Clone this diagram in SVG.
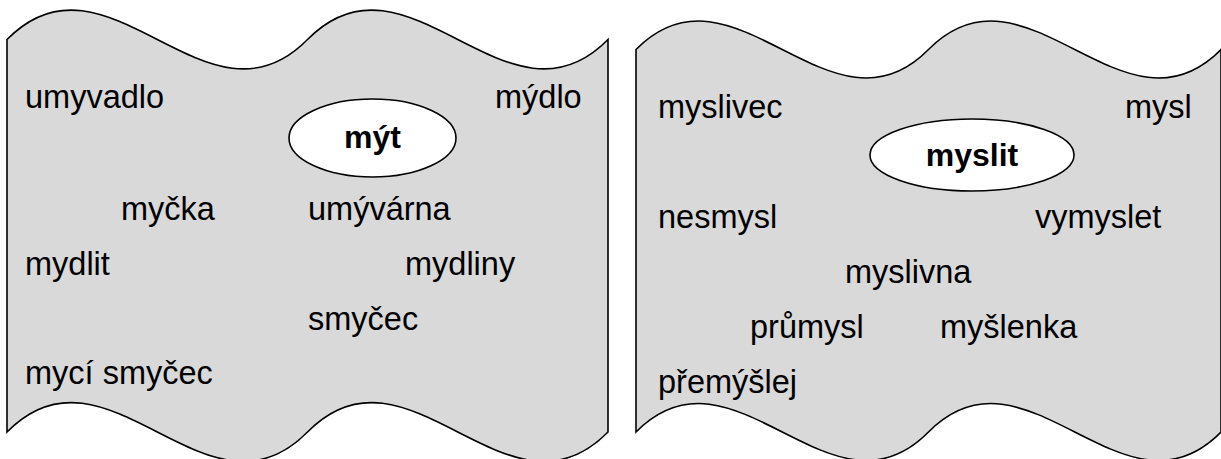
<svg xmlns="http://www.w3.org/2000/svg" width="1221" height="459" viewBox="0 0 1221 459">
<style>
.tape{fill:#d9d9d9;stroke:#000;stroke-width:1.6}
.oval{fill:#fff;stroke:#000;stroke-width:1.6}
.w{font-family:"Liberation Sans",Arial,sans-serif;font-size:32.5px;fill:#000}
.b{font-family:"Liberation Sans",Arial,sans-serif;font-size:32px;font-weight:bold;fill:#000;text-anchor:middle}
</style>
<g id="panel-myt">
<path class="tape" d="M7,39.5 C107.2,-62.5 207.3,141.5 307.5,39.5 C407.7,-62.5 507.8,141.5 608,39.5 L608,432 C507.8,534 407.7,330 307.5,432 C207.3,534 107.2,330 7,432 Z"/>
</g>
<g id="panel-myslit">
<path class="tape" d="M636,49.5 C733.5,-49.3 831,148.3 928.5,49.5 C1026,-49.3 1123.5,148.3 1221,49.5 L1221,432 C1123.5,530.8 1026,333.2 928.5,432 C831,530.8 733.5,333.2 636,432 Z"/>
</g>
<g id="node-myt">
<ellipse class="oval" cx="372.5" cy="138" rx="83.5" ry="39"/>
<text class="b" x="372.5" y="148">mýt</text>
</g>
<g id="node-myslit">
<ellipse class="oval" cx="972" cy="155" rx="102" ry="36"/>
<text class="b" x="972" y="166">myslit</text>
</g>
<g id="words-left">
<text class="w" x="25" y="108">umyvadlo</text>
<text class="w" x="495" y="108">mýdlo</text>
<text class="w" x="121" y="220">myčka</text>
<text class="w" x="308" y="220">umývárna</text>
<text class="w" x="25" y="275">mydlit</text>
<text class="w" x="405" y="275">mydliny</text>
<text class="w" x="308" y="330">smyčec</text>
<text class="w" x="25" y="384">mycí smyčec</text>
</g>
<g id="words-right">
<text class="w" x="658" y="118">myslivec</text>
<text class="w" x="1125" y="118">mysl</text>
<text class="w" x="658" y="228">nesmysl</text>
<text class="w" x="1035" y="228">vymyslet</text>
<text class="w" x="845" y="283">myslivna</text>
<text class="w" x="750" y="338">průmysl</text>
<text class="w" x="940" y="338">myšlenka</text>
<text class="w" x="658" y="393">přemýšlej</text>
</g>
<g id="connectors"/>
</svg>
